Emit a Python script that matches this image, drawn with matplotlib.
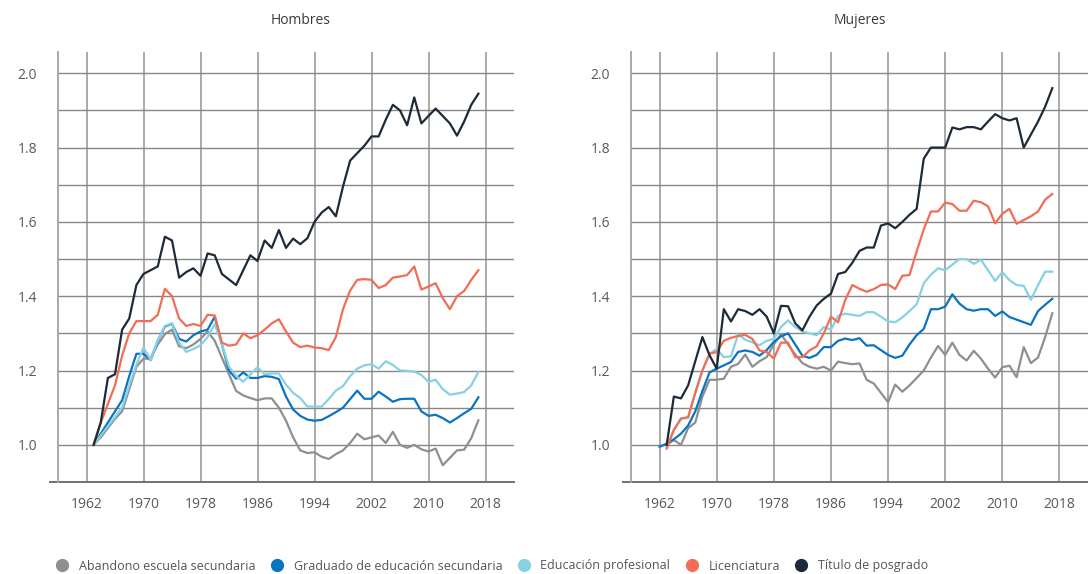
import matplotlib
matplotlib.use("Agg")
import matplotlib.pyplot as plt
import numpy as np
from matplotlib.lines import Line2D

plt.rcParams['font.family'] = ['Open Sans', 'DejaVu Sans']

# Hombres: annual 1963-2017
years_h = list(range(1963, 2018))
h_abandono = [1.00, 1.02, 1.045, 1.07, 1.09, 1.15, 1.21, 1.232, 1.232, 1.27,
              1.298, 1.31, 1.265, 1.26, 1.27, 1.285, 1.305, 1.28, 1.235, 1.19,
              1.145, 1.133, 1.126, 1.12, 1.125, 1.125, 1.10, 1.065, 1.02, 0.985,
              0.978, 0.98, 0.968, 0.962, 0.975, 0.985, 1.005, 1.03, 1.015, 1.02,
              1.025, 1.005, 1.035, 1.0, 0.992, 1.0, 0.988, 0.982, 0.99, 0.945,
              0.965, 0.985, 0.987, 1.018, 1.066]
h_graduado = [1.00, 1.03, 1.06, 1.09, 1.12, 1.185, 1.245, 1.245, 1.228, 1.28,
              1.318, 1.326, 1.285, 1.278, 1.295, 1.305, 1.31, 1.345, 1.27, 1.20,
              1.178, 1.195, 1.18, 1.18, 1.185, 1.183, 1.177, 1.13, 1.095, 1.078,
              1.068, 1.065, 1.067, 1.077, 1.088, 1.10, 1.123, 1.146, 1.124, 1.124,
              1.143, 1.13, 1.116, 1.123, 1.124, 1.124, 1.09, 1.078, 1.081, 1.072,
              1.06, 1.072, 1.085, 1.097, 1.128]
h_profesional = [1.00, 1.025, 1.05, 1.075, 1.10, 1.16, 1.215, 1.262, 1.228, 1.28,
                 1.32, 1.327, 1.275, 1.25, 1.258, 1.268, 1.29, 1.325, 1.27, 1.21,
                 1.185, 1.17, 1.19, 1.209, 1.19, 1.192, 1.192, 1.162, 1.14, 1.126,
                 1.103, 1.103, 1.103, 1.123, 1.146, 1.158, 1.185, 1.205, 1.214, 1.217,
                 1.205, 1.225, 1.215, 1.2, 1.199, 1.197, 1.188, 1.17, 1.175, 1.15,
                 1.135, 1.138, 1.142, 1.16, 1.196]
h_licenciatura = [1.00, 1.06, 1.11, 1.16, 1.24, 1.30, 1.333, 1.333, 1.333, 1.35,
                  1.42, 1.40, 1.34, 1.32, 1.325, 1.32, 1.35, 1.348, 1.275, 1.267,
                  1.27, 1.30, 1.287, 1.295, 1.31, 1.327, 1.338, 1.305, 1.275, 1.263,
                  1.267, 1.262, 1.26, 1.255, 1.29, 1.365, 1.415, 1.444, 1.446, 1.444,
                  1.422, 1.43, 1.45, 1.453, 1.457, 1.48, 1.418, 1.426, 1.435, 1.395,
                  1.365, 1.40, 1.414, 1.444, 1.47]
h_posgrado = [1.00, 1.06, 1.18, 1.19, 1.31, 1.34, 1.43, 1.46, 1.47, 1.48,
              1.56, 1.55, 1.45, 1.465, 1.475, 1.455, 1.515, 1.51, 1.46, 1.445,
              1.43, 1.47, 1.51, 1.495, 1.55, 1.53, 1.578, 1.53, 1.555, 1.54,
              1.556, 1.60, 1.625, 1.64, 1.615, 1.695, 1.765, 1.785, 1.805, 1.83,
              1.83, 1.875, 1.915, 1.90, 1.86, 1.935, 1.865, 1.885, 1.905, 1.885,
              1.865, 1.832, 1.87, 1.915, 1.945]

# Mujeres: annual 1962-2017 (None = no value)
years_m = list(range(1962, 2018))
m_abandono = [None, 1.0, 1.013, 1.0, 1.045, 1.06, 1.13, 1.175, 1.175, 1.178,
              1.21, 1.218, 1.243, 1.21, 1.225, 1.236, 1.27, 1.298, 1.27, 1.243,
              1.22, 1.21, 1.205, 1.21, 1.2, 1.224, 1.22, 1.217, 1.219, 1.175,
              1.165, 1.14, 1.115, 1.162, 1.143, 1.16, 1.18, 1.2, 1.235, 1.266,
              1.242, 1.275, 1.242, 1.227, 1.253, 1.232, 1.205, 1.181, 1.209, 1.213,
              1.182, 1.263, 1.22, 1.235, 1.29, 1.354]
m_graduado = [0.995, 1.003, 1.015, 1.03, 1.052, 1.09, 1.145, 1.195, 1.205, 1.214,
              1.223, 1.25, 1.254, 1.25, 1.24, 1.255, 1.277, 1.292, 1.30, 1.27,
              1.24, 1.234, 1.242, 1.263, 1.263, 1.28, 1.286, 1.282, 1.287, 1.267,
              1.268, 1.255, 1.242, 1.234, 1.24, 1.27, 1.295, 1.312, 1.365, 1.365,
              1.372, 1.405, 1.38, 1.365, 1.361, 1.365, 1.365, 1.347, 1.359, 1.344,
              1.337, 1.33, 1.323, 1.36, 1.377, 1.393]
m_profesional = [None, 0.995, 1.04, 1.072, 1.072, 1.14, 1.20, 1.245, 1.258, 1.236,
                 1.238, 1.297, 1.283, 1.276, 1.268, 1.28, 1.285, 1.317, 1.335, 1.317,
                 1.305, 1.30, 1.295, 1.317, 1.31, 1.347, 1.353, 1.35, 1.347, 1.357,
                 1.357, 1.345, 1.332, 1.33, 1.343, 1.36, 1.378, 1.435, 1.458, 1.475,
                 1.47, 1.485, 1.50, 1.50, 1.487, 1.498, 1.47, 1.441, 1.465, 1.443,
                 1.43, 1.428, 1.39, 1.43, 1.466, 1.466]
m_licenciatura = [None, 0.99, 1.04, 1.07, 1.075, 1.14, 1.20, 1.245, 1.25, 1.28,
                  1.288, 1.293, 1.296, 1.285, 1.254, 1.25, 1.232, 1.275, 1.275, 1.236,
                  1.236, 1.254, 1.265, 1.30, 1.345, 1.33, 1.39, 1.43, 1.42, 1.412,
                  1.419, 1.43, 1.432, 1.419, 1.455, 1.457, 1.52, 1.58, 1.628, 1.628,
                  1.652, 1.648, 1.63, 1.63, 1.657, 1.653, 1.642, 1.596, 1.622, 1.635,
                  1.595, 1.605, 1.615, 1.628, 1.66, 1.675]
m_posgrado = [None, 1.0, 1.13, 1.125, 1.16, 1.225, 1.29, 1.241, 1.205, 1.365,
              1.332, 1.365, 1.36, 1.35, 1.365, 1.345, 1.30, 1.374, 1.373, 1.327,
              1.308, 1.345, 1.375, 1.393, 1.407, 1.46, 1.465, 1.49, 1.522, 1.531,
              1.531, 1.59, 1.596, 1.583, 1.60, 1.619, 1.635, 1.77, 1.80, 1.80,
              1.80, 1.854, 1.849, 1.855, 1.855, 1.849, 1.87, 1.89, 1.879, 1.873,
              1.879, 1.80, 1.835, 1.87, 1.91, 1.96]

labels = ["Abandono escuela secundaria", "Graduado de educación secundaria",
          "Educación profesional", "Licenciatura", "Título de posgrado"]
colors = ["#8e8f92", "#0b74c1", "#86d1e3", "#f26d55", "#1c2a39"]

x_ticks = list(range(1962, 2019, 8))
y_ticks = [1.0, 1.2, 1.4, 1.6, 1.8, 2.0]
y_grid = [1.0, 1.1, 1.2, 1.3, 1.4, 1.5, 1.6, 1.7, 1.8, 1.9, 2.0]

fig = plt.figure(figsize=(10.88, 5.74), dpi=100)
ax_h = fig.add_axes([58 / 1088, 92 / 574, 456 / 1088, 430.3 / 574])
ax_m = fig.add_axes([631 / 1088, 92 / 574, 457 / 1088, 430.3 / 574])


def style(ax):
    ax.set_xlim(1958, 2022)
    ax.set_ylim(0.9, 2.058)
    ax.set_xticks(x_ticks)
    ax.set_yticks(y_ticks)
    ax.set_yticklabels([f"{v:.1f}" for v in y_ticks])
    ax.set_yticks(y_grid, minor=True)
    ax.grid(axis='x', which='major', color='#a3a3a3', lw=1.3)
    ax.grid(axis='y', which='both', color='#878787', lw=1.0)
    for s in ['top', 'right', 'bottom']:
        ax.spines[s].set_visible(False)
    ax.spines['left'].set_color('#a3a3a3')
    ax.spines['left'].set_linewidth(1.3)
    ax.axhline(0.9, xmin=-0.018, xmax=1, color='#6f7073', lw=1.4, clip_on=False)
    ax.tick_params(axis='both', which='both', length=0, labelsize=10,
                   colors='#58595b')
    ax.tick_params(axis='y', pad=15)
    ax.tick_params(axis='x', pad=11)
    ax.set_axisbelow(True)


style(ax_h)
style(ax_m)

series_h = [h_abandono, h_graduado, h_profesional, h_licenciatura, h_posgrado]
series_m = [m_abandono, m_graduado, m_profesional, m_licenciatura, m_posgrado]

for vals, c in zip(series_h, colors):
    ax_h.plot(years_h, vals, color=c, lw=1.6, zorder=3)
for vals, c in zip(series_m, colors):
    y = np.array([np.nan if v is None else v for v in vals])
    ax_m.plot(years_m, y, color=c, lw=1.6, zorder=3)

fig.text(301 / 1088, 1 - 20 / 574, "Hombres", ha='center', va='center',
         fontsize=10, color='#3a3a3a')
fig.text(860 / 1088, 1 - 20 / 574, "Mujeres", ha='center', va='center',
         fontsize=10, color='#3a3a3a')

handles = [Line2D([], [], marker='o', linestyle='none', markersize=8.5,
                  markerfacecolor=c, markeredgecolor=c) for c in colors]
fig.legend(handles, labels, loc='center left', ncol=5, frameon=False,
           bbox_to_anchor=(56 / 1088, 8 / 574), borderaxespad=0, borderpad=0,
           handlelength=1.0, handletextpad=0.85, columnspacing=1.2,
           prop={'size': 9}, labelcolor='#555555')

fig.savefig("out.png", dpi=100)
